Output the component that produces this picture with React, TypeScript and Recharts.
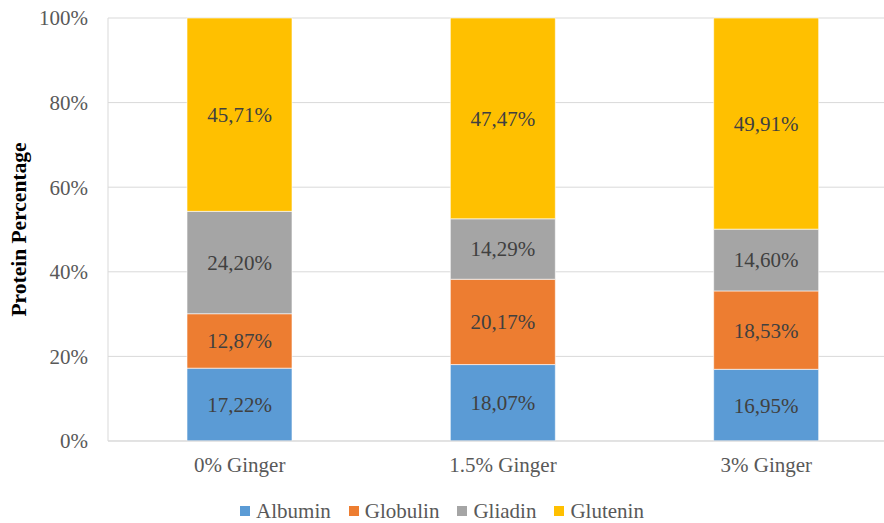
import React from 'react'
import {
  BarChart,
  Bar,
  XAxis,
  YAxis,
  CartesianGrid,
  Legend,
  LabelList,
} from 'recharts'

// Protein fractions per ginger level (percent)
const categories = ['0% Ginger', '1.5% Ginger', '3% Ginger']
const albumin = [17.22, 18.07, 16.95]
const globulin = [12.87, 20.17, 18.53]
const gliadin = [24.2, 14.29, 14.6]
const glutenin = [45.71, 47.47, 49.91]
const yTicks = [0, 20, 40, 60, 80, 100]

const SERIES = [
  { key: 'Albumin', color: '#5B9BD5' },
  { key: 'Globulin', color: '#ED7D31' },
  { key: 'Gliadin', color: '#A5A5A5' },
  { key: 'Glutenin', color: '#FFC000' },
]

const data = categories.map((name, i) => ({
  name,
  Albumin: albumin[i],
  Globulin: globulin[i],
  Gliadin: gliadin[i],
  Glutenin: glutenin[i],
}))

const FONT = '"Liberation Serif", "Times New Roman", serif'

const fmtLabel = (v: any) => `${Number(v).toFixed(2).replace('.', ',')}%`

// keep legend in series order (recharts sorts by name otherwise)
const renderLegend = () => (
  <div
    style={{
      display: 'flex',
      justifyContent: 'center',
      gap: 18,
      height: 32,
      fontFamily: FONT,
      fontSize: 21,
      lineHeight: '24px',
      color: '#595959',
    }}
  >
    {SERIES.map((s) => (
      <span key={s.key} style={{ display: 'flex', alignItems: 'center', height: 24 }}>
        <span
          style={{
            display: 'inline-block',
            width: 10,
            height: 10,
            background: s.color,
            marginRight: 6,
          }}
        />
        {s.key}
      </span>
    ))}
  </div>
)

const App: React.FC = () => {
  return (
    <div
      style={{
        position: 'absolute',
        left: 0,
        top: 0,
        width: 884,
        height: 523,
        overflow: 'hidden',
        background: '#fff',
        fontFamily: FONT,
      }}
    >
      <style>{`svg text { font-family: "Liberation Serif", "Times New Roman", serif !important; }`}</style>
      <BarChart
        width={900}
        height={523}
        data={data}
        margin={{ top: 18, right: 2, bottom: 0, left: 0 }}
        barSize={105}
      >
        <CartesianGrid vertical={false} stroke="#d9d9d9" />
        <XAxis
          dataKey="name"
          axisLine={{ stroke: '#d9d9d9' }}
          tickLine={false}
          tick={{ fontSize: 21, fill: '#595959' }}
          tickMargin={10}
          height={50}
        />
        <YAxis
          width={108}
          domain={[0, 100]}
          ticks={yTicks}
          tickFormatter={(v) => `${v}%`}
          axisLine={{ stroke: '#d9d9d9' }}
          tickLine={false}
          tick={{ fontSize: 21, fill: '#595959' }}
          tickMargin={14}
          label={{
            value: 'Protein Percentage',
            angle: -90,
            position: 'insideLeft',
            offset: 18,
            style: {
              fontSize: 21.5,
              fontWeight: 'bold',
              fill: '#000',
              textAnchor: 'middle',
            },
          }}
        />
        <Legend
          verticalAlign="bottom"
          align="center"
          height={32}
          wrapperStyle={{ left: 0, width: 884, top: 499, height: 32 }}
          content={renderLegend}
        />
        {SERIES.map((s) => (
          <Bar
            key={s.key}
            dataKey={s.key}
            stackId="a"
            fill={s.color}
            stroke="#ffffff"
            strokeWidth={0.6}
            isAnimationActive={false}
          >
            <LabelList
              dataKey={s.key}
              position="center"
              formatter={fmtLabel}
              style={{ fontSize: 21, fill: '#404040' }}
            />
          </Bar>
        ))}
      </BarChart>
    </div>
  )
}

export default App
